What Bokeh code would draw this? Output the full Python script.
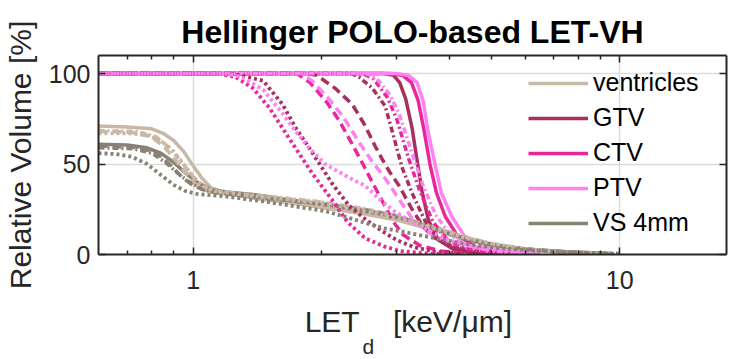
from bokeh.plotting import figure
from bokeh.models import (Range1d, LogAxis, LinearAxis, FixedTicker, Legend,
                          LegendItem, BasicTickFormatter, Title)
from bokeh.embed import file_html
from bokeh.resources import INLINE

# ---------------- data ----------------
title_text = "Hellinger POLO-based LET-VH"
y_label = "Relative Volume [%]"
x_label_main = "LET\u00a0\u00a0\u00a0\u00a0[keV/\u03bcm]\u00a0"
x_label_sub = "d"
structures = ["ventricles", "GTV", "CTV", "PTV", "VS 4mm"]
colors = ["#c9b8a5", "#a8305f", "#e8289a", "#ff82f2", "#8a8175"]
x_ticks = [1, 10]
x_minor_ticks = [0.7, 0.8, 0.9, 2, 3, 4, 5, 6, 7, 8, 9]
y_ticks = [0, 50, 100]

# ventricles
vent_solid_let = [0.6, 0.7, 0.8, 0.85, 0.9, 0.95, 1.0, 1.05, 1.1, 1.2, 1.4, 1.7, 2.0, 2.5, 3.0, 3.6, 4.3, 5.0, 6.0, 7.5, 9.5]
vent_solid_vol = [71, 70.5, 69.5, 67, 63, 57, 49, 42, 37, 33.5, 31, 28.5, 26, 22.5, 19, 14, 8.5, 5, 2.5, 1, 0.3]
vent_dash_let = [0.6, 0.72, 0.8, 0.86, 0.91, 0.96, 1.0, 1.05, 1.12, 1.3, 1.6, 2.0, 2.5, 3.0, 3.6, 4.3, 5.0, 6.0, 7.5, 9.5]
vent_dash_vol = [68, 67.5, 65, 59, 52, 45, 40, 36, 34, 32.5, 31, 29, 25, 21, 15.5, 10, 6, 3, 1.2, 0.4]
vent_dashdot_let = [0.6, 0.74, 0.82, 0.88, 0.94, 1.0, 1.06, 1.14, 1.3, 1.6, 2.0, 2.5, 3.0, 3.6, 4.3, 5.0, 6.0, 7.5, 9.5]
vent_dashdot_vol = [68.5, 68, 65, 59, 51, 43, 37.5, 35, 33.5, 31.5, 29, 25.5, 21.5, 16, 10, 6, 3, 1.2, 0.4]
vent_dot_let = [0.6, 0.7, 0.78, 0.84, 0.9, 0.95, 1.0, 1.05, 1.12, 1.3, 1.6, 2.0, 2.5, 3.0, 3.6, 4.3, 5.0, 6.0, 7.5, 9.7]
vent_dot_vol = [67, 67, 66, 63, 57, 50, 43, 38, 35, 33, 31, 28, 24, 20, 15, 9.5, 6, 3, 1.2, 0.4]

# GTV
gtv_solid_let = [0.6, 2.8, 2.95, 3.05, 3.15, 3.26, 3.35, 3.44, 3.56, 3.76, 4.1, 4.6, 5.2]
gtv_solid_vol = [100, 100, 99, 95, 86, 70, 52, 35, 19, 8, 2.5, 0.7, 0]
gtv_dash_let = [0.6, 1.85, 1.95, 2.15, 2.36, 2.52, 2.67, 2.77, 2.9, 3.04, 3.26, 3.45, 3.63, 4.0, 4.5, 5.2]
gtv_dash_vol = [100, 100, 99, 92, 83, 72, 60, 53, 45, 38, 25, 16, 10, 5, 2, 0.5]
gtv_dashdot_let = [0.6, 2.35, 2.45, 2.63, 2.82, 2.93, 3.09, 3.26, 3.49, 3.76, 4.2, 4.8, 5.5]
gtv_dashdot_vol = [100, 100, 98, 92, 82, 68, 48, 34, 19, 8, 3, 0.8, 0]
gtv_dot_let = [0.6, 1.2, 1.3, 1.46, 1.62, 1.74, 1.87, 1.98, 2.12, 2.32, 2.55, 2.77, 3.0, 3.3, 3.7, 4.3]
gtv_dot_vol = [100, 100, 99, 96, 83, 70, 59, 50, 39, 27, 19, 13, 8, 4, 1.5, 0.3]

# CTV
ctv_solid_let = [0.6, 2.9, 3.1, 3.25, 3.37, 3.47, 3.59, 3.72, 3.9, 4.15, 4.6, 5.3, 6.2]
ctv_solid_vol = [100, 100, 99, 95, 85, 70, 50, 34, 21, 11, 4, 1.2, 0.2]
ctv_dash_let = [0.6, 1.75, 1.88, 2.06, 2.2, 2.36, 2.5, 2.63, 2.77, 2.93, 3.1, 3.4, 3.8, 4.4]
ctv_dash_vol = [100, 100, 95, 84, 74, 61, 50, 40, 30, 19, 11, 5, 2, 0.4]
ctv_dashdot_let = [0.6, 2.5, 2.65, 2.85, 3.0, 3.2, 3.4, 3.65, 3.95, 4.4, 5.0, 6.0]
ctv_dashdot_vol = [100, 100, 97, 87, 75, 53, 35, 18, 8, 3, 1, 0]
ctv_dot_let = [0.6, 1.15, 1.26, 1.38, 1.51, 1.65, 1.77, 1.9, 2.12, 2.3, 2.53, 2.8, 3.04, 3.5, 4.1]
ctv_dot_vol = [100, 100, 98, 92, 81, 67, 56, 45, 30, 18, 9, 4.5, 2, 0.6, 0]

# PTV
ptv_solid_let = [0.6, 3.0, 3.2, 3.35, 3.46, 3.56, 3.69, 3.82, 4.04, 4.33, 4.93, 5.66, 6.5]
ptv_solid_vol = [100, 100, 99, 95, 85, 67, 50, 34, 21, 10, 4, 1.5, 0.3]
ptv_dash_let = [0.6, 1.8, 1.9, 2.08, 2.25, 2.45, 2.6, 2.82, 3.05, 3.26, 3.63, 4.0, 4.6, 5.5]
ptv_dash_vol = [100, 100, 96, 86, 76, 62, 53, 42, 30, 20, 11, 6, 2.5, 0.5]
ptv_dashdot_let = [0.6, 2.55, 2.7, 2.9, 3.05, 3.25, 3.45, 3.7, 4.0, 4.4, 5.0, 6.0]
ptv_dashdot_vol = [100, 100, 97, 88, 77, 57, 39, 22, 11, 5, 2, 0.5]
ptv_dot_let = [0.6, 1.2, 1.3, 1.46, 1.62, 1.74, 1.87, 2.04, 2.3, 2.53, 2.75, 3.0, 3.31, 3.97, 4.6, 5.3, 6.5]
ptv_dot_vol = [100, 100, 98, 91, 78, 68, 59, 50, 43, 38, 30, 23, 17, 8, 4, 1.5, 0.3]

# VS 4mm
vs_solid_let = [0.6, 0.7, 0.78, 0.84, 0.9, 0.96, 1.02, 1.1, 1.2, 1.4, 1.7, 2.0, 2.5, 3.0, 3.6, 4.3, 5.0, 6.0, 7.5, 9.5]
vs_solid_vol = [61, 60.5, 59, 56, 51, 45, 40, 36, 34.5, 33, 30, 28, 24, 21, 15, 9, 5.5, 3, 1.5, 0.5]
vs_dash_let = [0.6, 0.75, 0.82, 0.88, 0.94, 1.0, 1.08, 1.2, 1.5, 2.0, 2.5, 3.0, 3.6, 4.3, 5.0, 6.0, 7.5, 9.5]
vs_dash_vol = [60, 59, 56, 50, 43, 38, 35, 33.5, 31, 28, 25, 21.5, 15, 9, 5.5, 3, 1.5, 0.5]
vs_dashdot_let = [0.6, 0.72, 0.8, 0.86, 0.92, 0.98, 1.05, 1.15, 1.4, 1.8, 2.2, 2.7, 3.2, 3.8, 4.5, 5.3, 6.5, 8, 9.7]
vs_dashdot_vol = [59, 58.5, 56, 51, 45, 40, 36, 34, 32, 29, 26.5, 23, 19, 13, 8, 4.5, 2.2, 1, 0.4]
vs_dot_let = [0.6, 0.66, 0.72, 0.78, 0.84, 0.9, 0.96, 1.02, 1.2, 1.5, 1.8, 2.04, 2.3, 2.53, 2.8, 3.04, 3.6, 4.3, 5.2, 6.5, 8, 10]
vs_dot_vol = [56, 55.5, 54, 50, 44, 38.5, 35, 33.5, 32, 29, 26, 24, 20.5, 17.5, 14.5, 13, 9.5, 6, 3.5, 2, 1, 0.5]

# ---------------- figure ----------------
W, H = 739, 359
ML, MR, MT, MB = 95, 13, 55, 105
FONT = "Liberation Sans"
INK = "#262626"

p = figure(width=W, height=H, x_axis_type="log",
           x_range=Range1d(0.6, 17.8), y_range=Range1d(0, 110),
           output_backend="svg", toolbar_location=None,
           min_border_left=ML, min_border_right=MR,
           min_border_top=MT, min_border_bottom=MB)
p.outline_line_color = None
p.background_fill_color = "white"
p.border_fill_color = "white"


def style_axis(ax, show_labels, standoff):
    ax.axis_line_color = INK
    ax.axis_line_width = 2
    ax.major_tick_line_color = INK
    ax.minor_tick_line_color = INK
    ax.major_tick_line_width = 1.5
    ax.minor_tick_line_width = 1.5
    ax.major_tick_in = 7
    ax.major_tick_out = 0
    ax.minor_tick_in = 4
    ax.minor_tick_out = 0
    ax.major_label_text_font = FONT
    ax.major_label_text_color = INK
    ax.major_label_text_font_size = "25px" if show_labels else "1px"
    if not show_labels:
        ax.major_label_text_alpha = 0
    ax.major_label_standoff = standoff
    ax.axis_label_text_font = FONT
    ax.axis_label_text_font_style = "normal"
    ax.axis_label_text_color = INK


p.xaxis.ticker = FixedTicker(ticks=x_ticks, minor_ticks=x_minor_ticks)
p.xaxis.formatter = BasicTickFormatter()
p.yaxis.ticker = FixedTicker(ticks=y_ticks, minor_ticks=[])
style_axis(p.xaxis[0], True, 16)
style_axis(p.yaxis[0], True, 8)
p.xaxis.axis_label = x_label_main
p.xaxis.axis_label_text_font_size = "30px"
p.xaxis.axis_label_standoff = 13
p.yaxis.axis_label = y_label
p.yaxis.axis_label_text_font_size = "30px"
p.yaxis.axis_label_standoff = 9

top_ax = LogAxis(ticker=FixedTicker(ticks=x_ticks, minor_ticks=x_minor_ticks),
                 formatter=BasicTickFormatter())
style_axis(top_ax, False, 0)
top_ax.axis_label = title_text
top_ax.axis_label_text_font_size = "32px"
top_ax.axis_label_text_font_style = "bold"
top_ax.axis_label_text_color = "black"
top_ax.axis_label_standoff = 6
p.add_layout(top_ax, "above")

right_ax = LinearAxis(ticker=FixedTicker(ticks=y_ticks, minor_ticks=[]))
style_axis(right_ax, False, 0)
p.add_layout(right_ax, "right")

# subscript "d" of the x label
p.add_layout(Title(text=x_label_sub, align="left", offset=264, standoff=-16,
                   text_font=FONT, text_font_size="21px", text_font_style="normal",
                   text_color=INK), "below")

p.xgrid.grid_line_color = "#dcdcdc"
p.ygrid.grid_line_color = "#dcdcdc"
p.xgrid.grid_line_width = 1.5
p.ygrid.grid_line_width = 1.5

styles = {"solid": "solid", "dash": "9 5", "dashdot": "6 3 2 3", "dot": "3 3"}
curves = {
    "solid": [(vent_solid_let, vent_solid_vol), (gtv_solid_let, gtv_solid_vol),
              (ctv_solid_let, ctv_solid_vol), (ptv_solid_let, ptv_solid_vol),
              (vs_solid_let, vs_solid_vol)],
    "dash": [(vent_dash_let, vent_dash_vol), (gtv_dash_let, gtv_dash_vol),
             (ctv_dash_let, ctv_dash_vol), (ptv_dash_let, ptv_dash_vol),
             (vs_dash_let, vs_dash_vol)],
    "dashdot": [(vent_dashdot_let, vent_dashdot_vol), (gtv_dashdot_let, gtv_dashdot_vol),
                (ctv_dashdot_let, ctv_dashdot_vol), (ptv_dashdot_let, ptv_dashdot_vol),
                (vs_dashdot_let, vs_dashdot_vol)],
    "dot": [(vent_dot_let, vent_dot_vol), (gtv_dot_let, gtv_dot_vol),
            (ctv_dot_let, ctv_dot_vol), (ptv_dot_let, ptv_dot_vol),
            (vs_dot_let, vs_dot_vol)],
}

legend_items = []
for style in ["solid", "dash", "dashdot", "dot"]:
    for name, color, (xs, ys) in zip(structures, colors, curves[style]):
        r = p.line(xs, ys, line_color=color, line_width=3.5 if style != "dot" else 3.8,
                   line_dash=styles[style], line_join="round", line_cap="butt")
        if style == "solid":
            legend_items.append(LegendItem(label=name, renderers=[r]))

legend = Legend(items=legend_items, location=(430, 17),
                glyph_width=60, glyph_height=20, label_standoff=5,
                label_text_font=FONT, label_text_font_size="25px",
                label_text_color="black", label_height=20, spacing=6,
                padding=0, margin=0, background_fill_alpha=0,
                border_line_alpha=0)
p.add_layout(legend, "center")

open("out.html", "w").write(file_html(p, INLINE))
